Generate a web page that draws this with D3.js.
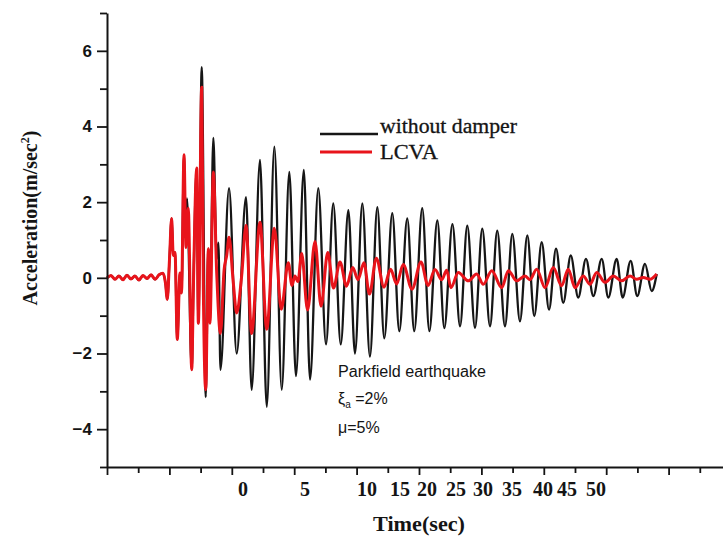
<!DOCTYPE html>
<html>
<head>
<meta charset="utf-8">
<script src="https://cdn.jsdelivr.net/npm/d3@7/dist/d3.min.js"></script>
<style>
  html, body { margin: 0; padding: 0; background: #fff; }
  svg { display: block; }
</style>
</head>
<body>
<svg id="chart" width="723" height="539"></svg>
<script>
// Response of the structure to the Parkfield record: acceleration (m/sec^2) vs time (sec)
// Uncontrolled structure ("without damper")
const timeBare = [0, 0.32, 0.64, 0.96, 1.28, 1.60, 1.92, 2.24, 2.56, 2.88, 3.21, 3.53, 3.85, 4.17, 4.49,
  4.69, 4.83, 5.01, 5.18, 5.31, 5.45, 5.63, 5.85, 5.97, 6.17, 6.29, 6.41,
  6.79, 6.92, 7.19, 7.32, 7.59, 7.91, 8.12, 8.25, 8.52, 8.79, 8.93, 9.09,
  9.78, 10.39, 11.14, 11.59, 12.26, 12.80, 13.41, 14.00, 14.61, 15.14, 15.77, 16.27,
  16.93, 17.55, 18.13, 18.73, 19.34, 19.87, 20.46, 21.07, 21.66, 22.22, 22.86, 23.42,
  24.06, 24.62, 25.26, 25.83, 26.47, 27.03, 27.68, 28.29, 28.87, 29.49, 30.07, 30.69,
  31.27, 31.89, 32.48, 33.09, 33.68, 34.24, 34.83, 35.42, 35.98, 36.56, 37.16, 37.76,
  38.38, 38.97, 39.64, 40.17, 40.84, 41.32, 41.96, 42.49, 43.11, 43.65, 44.05];
const accBare = [0, 0.06, -0.04, 0.05, -0.05, 0.07, -0.03, 0.05, -0.06, 0.06, -0.02, 0.08, -0.04, 0.08, 0.12,
  -0.15, -0.57, 0.5, 1.57, 0.59, 0.67, -1.63, 0.13, -0.4, 3.25, 1.2, 2.1,
  -2.43, -0.29, 2.9, -1.2, 5.57, -3.15, 0.77, -1.0, 3.7, 0.5, 0.93, -2.43,
  2.37, -2.0, 2.13, -2.96, 3.12, -3.41, 3.47, -2.96, 2.8, -2.6, 2.85, -2.69,
  2.37, -1.76, 1.97, -1.76, 1.79, -2.0, 1.97, -2.08, 1.87, -1.6, 1.71, -1.41,
  1.57, -1.41, 1.84, -1.41, 1.52, -1.33, 1.42, -1.28, 1.38, -1.32, 1.3, -1.28,
  1.25, -1.28, 1.16, -1.15, 1.12, -1.01, 0.94, -0.84, 0.77, -0.66, 0.59, -0.52,
  0.5, -0.48, 0.5, -0.52, 0.5, -0.52, 0.45, -0.48, 0.37, -0.35, 0.1];

// Structure fitted with the LCVA
const timeLcva = [0, 0.32, 0.64, 0.96, 1.28, 1.60, 1.92, 2.24, 2.56, 2.88, 3.21, 3.53, 3.85, 4.17, 4.49,
  4.69, 4.83, 5.01, 5.18, 5.31, 5.45, 5.63, 5.85, 5.97, 6.17, 6.33, 6.51,
  6.79, 6.92, 7.19, 7.32, 7.59, 7.72, 7.91, 8.12, 8.25, 8.52, 8.79, 9.09,
  9.38, 9.59, 9.78, 10.12, 10.39, 10.79, 11.14, 11.59, 12.26, 12.80, 13.41, 13.96,
  14.53, 14.82, 15.06, 15.30, 15.60, 16.07, 16.67, 17.15, 17.69, 18.15, 18.67, 19.19,
  19.69, 20.11, 20.59, 21.03, 21.58, 22.20, 22.72, 23.21, 23.74, 24.44, 25.16, 25.72,
  26.28, 26.82, 27.22, 27.56, 28.15, 28.95, 29.62, 30.15, 30.83, 31.63, 32.16, 32.83,
  33.49, 33.89, 34.43, 35.10, 35.76, 36.43, 36.96, 37.50, 38.16, 38.70, 39.24, 39.90,
  40.57, 41.24, 41.91, 42.44, 42.97, 43.51, 44.05];
const accLcva = [0, 0.06, -0.04, 0.05, -0.05, 0.07, -0.03, 0.05, -0.06, 0.06, -0.02, 0.08, -0.04, 0.08, 0.12,
  -0.15, -0.57, 0.5, 1.57, 0.59, 0.67, -1.63, 0.13, -0.4, 3.25, 0.8, 1.84,
  -2.43, -0.29, 2.9, -1.2, 5.04, -0.3, -2.96, 0.77, -1.2, 2.8, 0.13, -1.47,
  0.2, 0.59, 1.07, -0.13, -0.93, 0.05, 1.39, -1.47, 1.47, -1.36, 1.31, -0.83,
  0.4, -0.2, 0.05, -0.1, 0.64, -0.85, 0.96, -0.75, 0.67, -0.27, 0.42, -0.22,
  0.27, -0.05, 0.4, -0.43, 0.52, -0.25, 0.23, -0.16, 0.35, -0.3, 0.42, -0.2,
  0.22, -0.05, 0.2, -0.26, 0.14, -0.08, 0.1, -0.17, 0.19, -0.26, 0.19, -0.08,
  0.05, -0.05, 0.23, -0.26, 0.27, -0.21, 0.23, -0.26, 0.05, -0.17, 0.14, -0.12,
  0.05, -0.08, 0.05, -0.04, 0.01, -0.04, 0.1];

// Axis ticks
const yMajorTicks = [-4, -2, 0, 2, 4, 6];
const yMinorTicks = [-5, -3, -1, 1, 3, 5, 7];
const xMajorTicks = [0, 5, 10, 15, 20, 25, 30, 35, 40, 45];
const xMinorTicks = [2.5, 7.5, 12.5, 17.5, 22.5, 27.5, 32.5, 37.5, 42.5, 47.5];
// Time labels and the time (on the axis) each one is printed at
const xTickLabels = ["0", "5", "10", "15", "20", "25", "30", "35", "40", "45", "50"];
const xTickLabelAt = [10.90, 15.87, 20.83, 23.48, 25.64, 27.96, 30.13, 32.45, 34.94, 36.86, 39.18];

const seriesNames = ["without damper", "LCVA"];
const seriesColors = ["#161616", "#e8141b"];

const svg = d3.select("#chart");
const x = d3.scaleLinear().domain([0, 49.36]).range([107, 723]);
const y = d3.scaleLinear().domain([-5, 7]).range([467, 13]);

const ink = "#141414";
const bareWidth = 2.3;
const lcvaWidth = 3;

// Curves
const line = d3.line()
  .x(d => x(d[0]))
  .y(d => y(d[1]))
  .curve(d3.curveMonotoneX);

svg.append("path")
  .datum(d3.zip(timeBare, accBare))
  .attr("d", line)
  .attr("fill", "none")
  .attr("stroke", seriesColors[0])
  .attr("stroke-width", bareWidth)
  .attr("stroke-linejoin", "round");

svg.append("path")
  .datum(d3.zip(timeLcva, accLcva))
  .attr("d", line)
  .attr("fill", "none")
  .attr("stroke", seriesColors[1])
  .attr("stroke-width", lcvaWidth)
  .attr("stroke-linejoin", "round");

// Y axis
const yMajor = svg.append("g")
  .attr("transform", `translate(${x(0)},0)`)
  .call(d3.axisLeft(y).tickValues(yMajorTicks).tickSize(10).tickSizeOuter(0).tickPadding(5)
    .tickFormat(d3.format("d")));
svg.append("g")
  .attr("transform", `translate(${x(0)},0)`)
  .call(d3.axisLeft(y).tickValues(yMinorTicks).tickSize(7).tickSizeOuter(0).tickFormat(""))
  .call(g => g.select(".domain").remove());

yMajor.selectAll("text")
  .attr("font-family", "'Liberation Sans', Arial, sans-serif")
  .attr("font-weight", "bold")
  .attr("font-size", 17)
  .attr("fill", ink);

// X axis
svg.append("g")
  .attr("transform", `translate(0,${y(-5)})`)
  .call(d3.axisBottom(x).tickValues(xMajorTicks).tickSize(8).tickSizeOuter(0).tickFormat(""));
svg.append("g")
  .attr("transform", `translate(0,${y(-5)})`)
  .call(d3.axisBottom(x).tickValues(xMinorTicks).tickSize(6).tickSizeOuter(0).tickFormat(""))
  .call(g => g.select(".domain").remove());

svg.selectAll(".domain").attr("stroke", ink).attr("stroke-width", 2);
svg.selectAll(".tick line").attr("stroke", ink).attr("stroke-width", 1.8);

svg.append("g")
  .selectAll("text")
  .data(xTickLabels)
  .join("text")
  .attr("x", (d, i) => x(xTickLabelAt[i]))
  .attr("y", 496)
  .attr("text-anchor", "middle")
  .attr("font-family", "'Liberation Serif', 'Times New Roman', serif")
  .attr("font-weight", "bold")
  .attr("font-size", 20)
  .attr("fill", ink)
  .text(d => d);

// Axis titles
svg.append("text")
  .attr("x", 373)
  .attr("y", 531)
  .attr("font-family", "'Liberation Serif', 'Times New Roman', serif")
  .attr("font-weight", "bold")
  .attr("font-size", 21)
  .attr("textLength", 92)
  .attr("lengthAdjust", "spacingAndGlyphs")
  .attr("fill", ink)
  .text("Time(sec)");

const yTitle = svg.append("text")
  .attr("transform", "translate(37,218) rotate(-90)")
  .attr("text-anchor", "middle")
  .attr("font-family", "'Liberation Serif', 'Times New Roman', serif")
  .attr("font-weight", "bold")
  .attr("font-size", 20)
  .attr("fill", ink);
yTitle.append("tspan").text("Acceleration(m/sec");
yTitle.append("tspan").attr("font-size", 12).attr("dy", -8).text("2");
yTitle.append("tspan").attr("dy", 8).text(")");

// Legend
const legend = svg.append("g");
const legendRows = [
  { lineX: [320, 378], lineY: 134, textY: 133, width: 137 },
  { lineX: [320, 372], lineY: 152, textY: 159, width: 58 }
];
legendRows.forEach((r, i) => {
  legend.append("line")
    .attr("x1", r.lineX[0]).attr("x2", r.lineX[1])
    .attr("y1", r.lineY).attr("y2", r.lineY)
    .attr("stroke", seriesColors[i])
    .attr("stroke-width", i === 0 ? bareWidth : lcvaWidth);
  legend.append("text")
    .attr("x", 380)
    .attr("y", r.textY)
    .attr("font-family", "'Liberation Serif', 'Times New Roman', serif")
    .attr("font-size", 20)
    .attr("textLength", r.width)
    .attr("lengthAdjust", "spacingAndGlyphs")
    .attr("fill", ink)
    .attr("stroke", ink)
    .attr("stroke-width", 0.3)
    .text(seriesNames[i]);
});

// Record and parameters
const note = svg.append("g")
  .attr("font-family", "'Liberation Sans', Arial, sans-serif")
  .attr("font-size", 16)
  .attr("fill", ink);
note.append("text").attr("x", 338).attr("y", 377)
  .attr("textLength", 148).attr("lengthAdjust", "spacingAndGlyphs")
  .text("Parkfield earthquake");
const xi = note.append("text").attr("x", 338).attr("y", 404);
xi.append("tspan").text("ξ");
xi.append("tspan").attr("font-size", 10).attr("dy", 4).text("a");
xi.append("tspan").attr("dy", -4).text(" =2%");
note.append("text").attr("x", 338).attr("y", 433).text("μ=5%");
</script>
</body>
</html>
